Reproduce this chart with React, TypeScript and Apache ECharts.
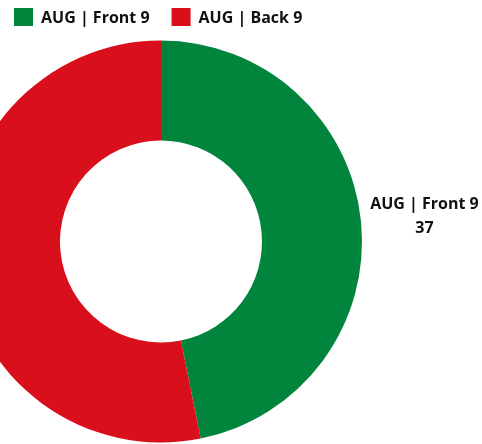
import React, { useEffect, useRef } from "react";
import * as echarts from "echarts";

const categories = ["AUG | Front 9", "AUG | Back 9"];
const values = [37, 42];
const colors = ["#01843C", "#D9101C"];

export default function App() {
  const ref = useRef<HTMLDivElement>(null);
  useEffect(() => {
    const chart = echarts.init(ref.current!, undefined, { renderer: "svg" });
    chart.setOption({
      animation: false,
      color: colors,
      textStyle: { fontFamily: "Open Sans" },
      legend: {
        left: 14,
        top: 8,
        icon: "rect",
        itemWidth: 19,
        itemHeight: 18,
        itemGap: 22,
        padding: 0,
        data: categories,
        textStyle: { fontFamily: "Open Sans", fontWeight: "bold", fontSize: 16, color: "#111", padding: [0, 0, 0, 3] },
      },
      series: [
        {
          type: "pie",
          center: [161, 241.5],
          radius: [101, 201],
          startAngle: 90,
          label: {
            show: true,
            position: "outside",
            overflow: "none",
            edgeDistance: 0,
            padding: [0, 0, 10, 0],
            formatter: (p: any) => `{a|${p.name}}\n{a|${p.value}}`,
            rich: {
              a: { fontFamily: "Open Sans", fontWeight: "bold", fontSize: 16, color: "#111", lineHeight: 24, align: "center" },
            },
          },
          labelLine: { show: false, length: 11, length2: 0 },
          data: categories.map((c, i) => ({
            name: c,
            value: values[i],
            label: i === 1 ? { show: false } : undefined,
          })),
        },
      ],
    });
    return () => chart.dispose();
  }, []);
  return <div ref={ref} style={{ position: "fixed", left: 0, top: 0, width: 482, height: 444 }} />;
}
